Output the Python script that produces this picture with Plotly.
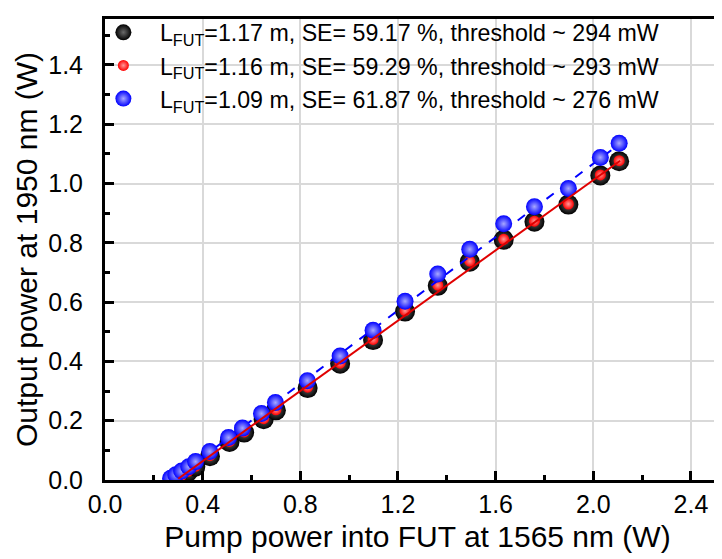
import plotly.graph_objects as go

# ---- data ----
pump_117 = [0.31, 0.34, 0.37, 0.43, 0.51, 0.57, 0.65, 0.70, 0.83, 0.963, 1.098, 1.229,
            1.363, 1.494, 1.633, 1.759, 1.898, 2.029, 2.106]
out_117 = [0.010, 0.028, 0.045, 0.080, 0.128, 0.160, 0.205, 0.235, 0.310, 0.392, 0.472,
           0.568, 0.655, 0.736, 0.810, 0.871, 0.929, 1.027, 1.075]

pump_116 = [0.31, 0.34, 0.37, 0.43, 0.51, 0.57, 0.65, 0.70, 0.83, 0.963, 1.098, 1.229,
            1.363, 1.494, 1.633, 1.759, 1.898, 2.029, 2.106]
out_116 = [0.011, 0.029, 0.046, 0.082, 0.130, 0.162, 0.207, 0.237, 0.313, 0.394, 0.474,
           0.571, 0.657, 0.738, 0.812, 0.873, 0.931, 1.029, 1.077]

pump_109 = [0.269, 0.290, 0.314, 0.343, 0.371, 0.429, 0.506, 0.563, 0.641, 0.698, 0.829,
            0.963, 1.098, 1.229, 1.363, 1.494, 1.633, 1.759, 1.898, 2.029, 2.106]
out_109 = [0.006, 0.018, 0.030, 0.045, 0.062, 0.096, 0.143, 0.175, 0.224, 0.261, 0.335,
           0.418, 0.505, 0.603, 0.695, 0.778, 0.864, 0.922, 0.983, 1.088, 1.136]

fit_116_x = [0.30, 2.11]
fit_116_y = [0.004, 1.077]
fit_109_x = [0.276, 2.11]
fit_109_y = [0.0, 1.135]

labels = ["L<sub>FUT</sub>=1.17 m, SE= 59.17 %, threshold ~ 294 mW",
          "L<sub>FUT</sub>=1.16 m, SE= 59.29 %, threshold ~ 293 mW",
          "L<sub>FUT</sub>=1.09 m, SE= 61.87 %, threshold ~ 276 mW"]

x_ticks = [0.0, 0.4, 0.8, 1.2, 1.6, 2.0, 2.4]
y_ticks = [0.0, 0.2, 0.4, 0.6, 0.8, 1.0, 1.2, 1.4]

FONT = "Liberation Sans, Arial, sans-serif"

fig = go.Figure()

fig.add_trace(go.Scatter(
    x=pump_117, y=out_117, mode="markers", name=labels[0],
    marker=dict(size=20, color="#000000",
                gradient=dict(type="radial", color="#6a6a6a"),
                line=dict(width=0))))
fig.add_trace(go.Scatter(
    x=pump_116, y=out_116, mode="markers", name=labels[1],
    marker=dict(size=11, color="#ff0000",
                gradient=dict(type="radial", color="#ff9a9a"),
                line=dict(width=0))))
fig.add_trace(go.Scatter(
    x=fit_109_x, y=fit_109_y, mode="lines", showlegend=False,
    line=dict(color="#0000ff", width=2, dash="dash")))
fig.add_trace(go.Scatter(
    x=pump_109, y=out_109, mode="markers", name=labels[2],
    marker=dict(size=17, color="#0000ff",
                gradient=dict(type="radial", color="#a8a8ff"),
                line=dict(width=0))))
fig.add_trace(go.Scatter(
    x=fit_116_x, y=fit_116_y, mode="lines", showlegend=False,
    line=dict(color="#e00000", width=2)))

fig.update_layout(
    width=722, height=559,
    margin=dict(l=97, r=0, t=11, b=87),
    paper_bgcolor="white", plot_bgcolor="white",
    font=dict(family=FONT, size=25, color="black"),
    showlegend=True,
    legend=dict(x=-0.029, y=1.018, xanchor="left", yanchor="top",
                bgcolor="rgba(0,0,0,0)", borderwidth=0,
                font=dict(family=FONT, size=23.2, color="black"),
                itemwidth=63, traceorder="normal"),
    xaxis=dict(range=[0, 2.56], tickvals=x_ticks, ticktext=[f"{v:.1f}" for v in x_ticks],
               automargin=False,
               ticks="inside", ticklen=9, tickwidth=2.5, tickcolor="black",
               minor=dict(dtick=0.2, tick0=0, ticks="inside", ticklen=5, tickwidth=2.5,
                          tickcolor="black", showgrid=False),
               showgrid=True, gridcolor="#d9d9d9", gridwidth=1.5,
               showline=True, linewidth=3, linecolor="black", mirror=True,
               zeroline=False, tickfont=dict(size=25),
               title=dict(text="Pump power into FUT at 1565 nm (W)", font=dict(size=30), standoff=9)),
    yaxis=dict(range=[0, 1.555], tickvals=y_ticks, ticktext=[f"{v:.1f}" for v in y_ticks],
               automargin=False,
               ticks="inside", ticklen=9, tickwidth=2.5, tickcolor="black",
               minor=dict(dtick=0.1, tick0=0, ticks="inside", ticklen=5, tickwidth=2.5,
                          tickcolor="black", showgrid=False),
               showgrid=True, gridcolor="#d9d9d9", gridwidth=1.5,
               showline=True, linewidth=3, linecolor="black", mirror=False,
               zeroline=False, tickfont=dict(size=25), ticklabelstandoff=14,
               title=dict(text="Output power at 1950 nm (W)", font=dict(size=30), standoff=2)),
)

fig.write_html("out.html")
